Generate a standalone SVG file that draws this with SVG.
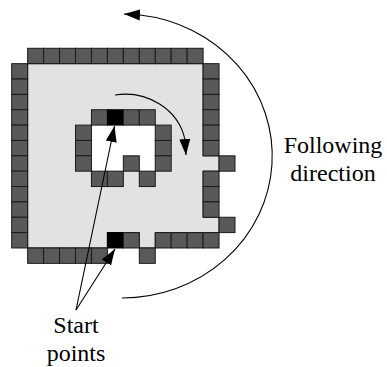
<svg xmlns="http://www.w3.org/2000/svg" width="387" height="367" viewBox="0 0 387 367">
<style>
.px{fill:#595959;stroke:#1a1a1a;stroke-width:1}
.st{fill:#000;stroke:#000;stroke-width:1}
.lbl{font-family:"Liberation Serif","Times New Roman",serif;font-size:24px;fill:#000;text-anchor:middle}
.cn{fill:none;stroke:#000;stroke-width:1.1}
</style>
<defs>
<marker id="ah" markerUnits="userSpaceOnUse" markerWidth="16" markerHeight="12" viewBox="0 0 16 12" refX="16" refY="6" orient="auto">
<path d="M0,0.5 L16,6 L0,11.5 z" fill="#000"/>
</marker>
</defs>
<rect width="387" height="367" fill="#fff"/>
<g id="region">
<polygon points="27.65,63.66 203.1,63.66 203.1,155.82 219.05,155.82 219.05,171.18 203.1,171.18 203.1,217.26 219.05,217.26 219.05,232.62 155.25,232.62 155.25,247.98 139.3,247.98 139.3,232.62 107.4,232.62 107.4,247.98 27.65,247.98" fill="#e2e2e2" stroke="#1a1a1a" stroke-width="1"/>
<polygon points="91.45,125.1 155.25,125.1 155.25,171.18 139.3,171.18 139.3,155.82 123.35,155.82 123.35,171.18 91.45,171.18" fill="#fff"/>
</g>
<g id="outer-contour">
<rect class="px" x="27.65" y="48.3" width="15.95" height="15.36"/>
<rect class="px" x="43.6" y="48.3" width="15.95" height="15.36"/>
<rect class="px" x="59.55" y="48.3" width="15.95" height="15.36"/>
<rect class="px" x="75.5" y="48.3" width="15.95" height="15.36"/>
<rect class="px" x="91.45" y="48.3" width="15.95" height="15.36"/>
<rect class="px" x="107.4" y="48.3" width="15.95" height="15.36"/>
<rect class="px" x="123.35" y="48.3" width="15.95" height="15.36"/>
<rect class="px" x="139.3" y="48.3" width="15.95" height="15.36"/>
<rect class="px" x="155.25" y="48.3" width="15.95" height="15.36"/>
<rect class="px" x="171.2" y="48.3" width="15.95" height="15.36"/>
<rect class="px" x="187.15" y="48.3" width="15.95" height="15.36"/>
<rect class="px" x="11.7" y="63.66" width="15.95" height="15.36"/>
<rect class="px" x="11.7" y="79.02" width="15.95" height="15.36"/>
<rect class="px" x="11.7" y="94.38" width="15.95" height="15.36"/>
<rect class="px" x="11.7" y="109.74" width="15.95" height="15.36"/>
<rect class="px" x="11.7" y="125.1" width="15.95" height="15.36"/>
<rect class="px" x="11.7" y="140.46" width="15.95" height="15.36"/>
<rect class="px" x="11.7" y="155.82" width="15.95" height="15.36"/>
<rect class="px" x="11.7" y="171.18" width="15.95" height="15.36"/>
<rect class="px" x="11.7" y="186.54" width="15.95" height="15.36"/>
<rect class="px" x="11.7" y="201.9" width="15.95" height="15.36"/>
<rect class="px" x="11.7" y="217.26" width="15.95" height="15.36"/>
<rect class="px" x="11.7" y="232.62" width="15.95" height="15.36"/>
<rect class="px" x="203.1" y="63.66" width="15.95" height="15.36"/>
<rect class="px" x="203.1" y="79.02" width="15.95" height="15.36"/>
<rect class="px" x="203.1" y="94.38" width="15.95" height="15.36"/>
<rect class="px" x="203.1" y="109.74" width="15.95" height="15.36"/>
<rect class="px" x="203.1" y="125.1" width="15.95" height="15.36"/>
<rect class="px" x="203.1" y="140.46" width="15.95" height="15.36"/>
<rect class="px" x="219.05" y="155.82" width="15.95" height="15.36"/>
<rect class="px" x="203.1" y="171.18" width="15.95" height="15.36"/>
<rect class="px" x="203.1" y="186.54" width="15.95" height="15.36"/>
<rect class="px" x="203.1" y="201.9" width="15.95" height="15.36"/>
<rect class="px" x="219.05" y="217.26" width="15.95" height="15.36"/>
<rect class="st" x="107.4" y="232.62" width="15.95" height="15.36"/>
<rect class="px" x="123.35" y="232.62" width="15.95" height="15.36"/>
<rect class="px" x="155.25" y="232.62" width="15.95" height="15.36"/>
<rect class="px" x="171.2" y="232.62" width="15.95" height="15.36"/>
<rect class="px" x="187.15" y="232.62" width="15.95" height="15.36"/>
<rect class="px" x="203.1" y="232.62" width="15.95" height="15.36"/>
<rect class="px" x="27.65" y="247.98" width="15.95" height="15.36"/>
<rect class="px" x="43.6" y="247.98" width="15.95" height="15.36"/>
<rect class="px" x="59.55" y="247.98" width="15.95" height="15.36"/>
<rect class="px" x="75.5" y="247.98" width="15.95" height="15.36"/>
<rect class="px" x="91.45" y="247.98" width="15.95" height="15.36"/>
<rect class="px" x="139.3" y="247.98" width="15.95" height="15.36"/>
</g>
<g id="inner-contour">
<rect class="px" x="91.45" y="109.74" width="15.95" height="15.36"/>
<rect class="st" x="107.4" y="109.74" width="15.95" height="15.36"/>
<rect class="px" x="123.35" y="109.74" width="15.95" height="15.36"/>
<rect class="px" x="139.3" y="109.74" width="15.95" height="15.36"/>
<rect class="px" x="75.5" y="125.1" width="15.95" height="15.36"/>
<rect class="px" x="155.25" y="125.1" width="15.95" height="15.36"/>
<rect class="px" x="75.5" y="140.46" width="15.95" height="15.36"/>
<rect class="px" x="155.25" y="140.46" width="15.95" height="15.36"/>
<rect class="px" x="75.5" y="155.82" width="15.95" height="15.36"/>
<rect class="px" x="123.35" y="155.82" width="15.95" height="15.36"/>
<rect class="px" x="155.25" y="155.82" width="15.95" height="15.36"/>
<rect class="px" x="91.45" y="171.18" width="15.95" height="15.36"/>
<rect class="px" x="107.4" y="171.18" width="15.95" height="15.36"/>
<rect class="px" x="139.3" y="171.18" width="15.95" height="15.36"/>
</g>
<g id="connectors">
<path class="cn" d="M122,298 A150,142 0 0 0 140,15 L124,14" marker-end="url(#ah)"/>
<path class="cn" d="M115,95 A61,56 0 0 1 184.8,139 L186,155" marker-end="url(#ah)"/>
<path class="cn" d="M76,310 L114.5,126" marker-end="url(#ah)"/>
<path class="cn" d="M76,310 L115,249" marker-end="url(#ah)"/>
</g>
<g id="label-following">
<text class="lbl" x="333" y="153">Following</text>
<text class="lbl" x="333" y="181">direction</text>
</g>
<g id="label-start">
<text class="lbl" x="76" y="333">Start</text>
<text class="lbl" x="76" y="361">points</text>
</g>
</svg>
